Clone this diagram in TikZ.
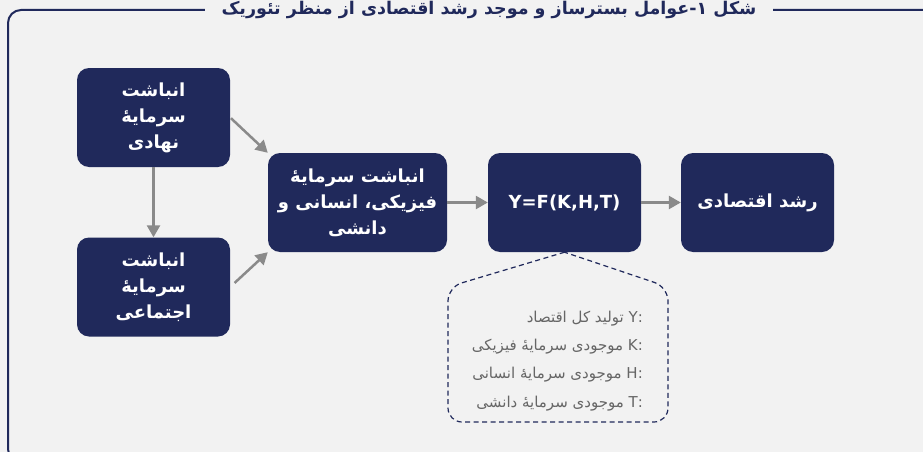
\documentclass[tikz,border=0pt]{standalone}
\usepackage{fontspec}
\usetikzlibrary{arrows.meta}
\TeXXeTstate=1
\newfontfamily\fafont[Script=Arabic]{DejaVu Sans}
\definecolor{navybox}{HTML}{20295B}
\definecolor{pagebg}{HTML}{F2F2F2}
\definecolor{arrowgray}{HTML}{8A8A8A}
\definecolor{keygray}{HTML}{666666}
\newcommand{\rl}[1]{\beginR#1\endR}

\begin{document}
\begin{tikzpicture}[
        x=1pt, y=-1pt,
        box/.style={fill=navybox, rounded corners=12pt, text=white,
                minimum width=153pt, minimum height=99pt, align=center, inner sep=4pt,
                font=\fafont\bfseries\fontsize{18}{26}\selectfont},
        link/.style={draw=arrowgray, line width=2.5pt,
                -{Triangle[length=12pt,width=13pt]}},
        keyline/.style={draw=navybox, line width=1.2pt, dash pattern=on 5pt off 3.5pt}
    ]
    \useasboundingbox (0,0) rectangle (923,452);
    \clip (0,0) rectangle (923,452);
    \fill[pagebg] (0,0) rectangle (923,452);

    % frame and title
    \draw[navybox, line width=2pt, rounded corners=13pt] (8,10) rectangle (960,462);
    \node[fill=pagebg, text=navybox, inner xsep=17pt, inner ysep=6pt,
        font=\fafont\bfseries\fontsize{17.5}{20}\selectfont] (title) at (489,10)
        {\rl{شکل ۱-عوامل بسترساز و موجد رشد اقتصادی از منظر تئوریک}};

    % boxes
    \node[box] (nahadi) at (153.5,117.5) {\rl{انباشت}\\\rl{سرمایهٔ}\\\rl{نهادی}};
    \node[box] (ejtemai) at (153.5,287) {\rl{انباشت}\\\rl{سرمایهٔ}\\\rl{اجتماعی}};
    \node[box, minimum width=179pt] (fani) at (357.5,202.5)
        {\rl{انباشت سرمایهٔ}\\\rl{فیزیکی، انسانی و}\\\rl{دانشی}};
    \node[box] (tabe) at (564.5,202.5) {\fontspec{DejaVu Sans}\bfseries Y=F(K,H,T)};
    \node[box] (roshd) at (757.5,202.5) {\rl{رشد اقتصادی}};

    % arrows
    \draw[link] (nahadi) -- (ejtemai);
    \draw[link, shorten <=1pt] (nahadi.east) -- (fani.north west);
    \draw[link, shorten <=6pt] (ejtemai.east) -- (fani.south west);
    \draw[link] (fani) -- (tabe);
    \draw[link] (tabe) -- (roshd);

    % key for the function
    \draw[keyline] (tabe.south) [rounded corners=14pt] -- (448,287) -- (448,422)
        -- (668,422) -- (668,287) [sharp corners] -- (tabe.south);
    \node[anchor=base east, align=right, inner sep=0pt, text=keygray,
        font=\fafont\fontsize{15}{28.3}\selectfont] (key) at (643,407)
        {\rl{\beginL Y:\endL\ تولید کل اقتصاد}\\
         \rl{\beginL K:\endL\ موجودی سرمایهٔ فیزیکی}\\
         \rl{\beginL H:\endL\ موجودی سرمایهٔ انسانی}\\
         \rl{\beginL T:\endL\ موجودی سرمایهٔ دانشی}};
\end{tikzpicture}
\end{document}
